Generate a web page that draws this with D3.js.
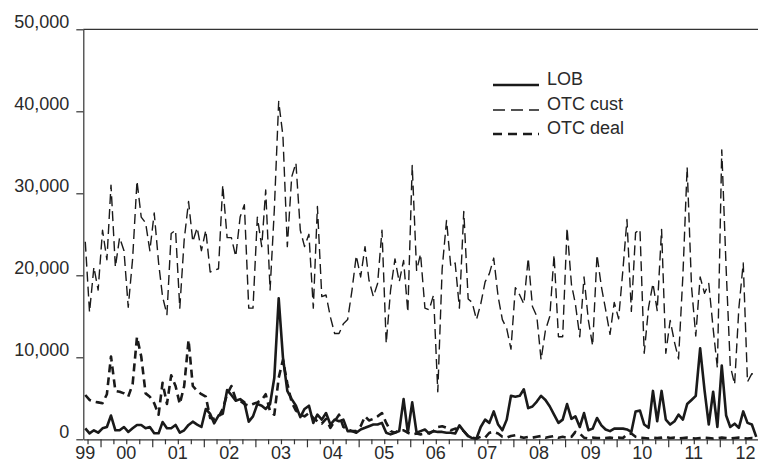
<!DOCTYPE html>
<html>
<head>
<meta charset="utf-8">
<script src="https://cdn.jsdelivr.net/npm/d3@7"></script>
<style>
  body { margin: 0; background: #fff; }
  text { font-family: "Liberation Sans", Arial, sans-serif; fill: #2a2a2a; }
</style>
</head>
<body>
<div id="chart-area"></div>
<script>
// monthly series, Sep 1999 .. Sep 2012
var firstMonth = [1999, 8];

var lob = [
  1340, 730, 1100, 800, 1340, 1500, 2900, 1100, 1100, 1500, 900, 1340,
  1750, 1750, 1340, 1500, 730, 730, 2100, 1340, 1340, 1750, 800, 1100,
  1750, 2150, 1800, 1500, 3700, 3100, 1950, 2900, 3100, 6000, 5400, 4700,
  4900, 4500, 2150, 2800, 4300, 4100, 3700, 4300, 7500, 17200, 10000, 5900,
  4900, 4100, 2700, 3700, 4100, 2000, 3000, 2400, 3200, 1800, 2400, 2200,
  2400, 1000, 1000, 800, 1200, 1400, 1600, 1800, 1800, 2000, 800, 600,
  800, 1000, 4900, 800, 4500, 800, 1000, 1200, 700, 1000, 900, 900,
  800, 800, 700, 1700, 1000, 400, 150, 100, 1500, 2400, 2000, 3400,
  1800, 1100, 2400, 5300, 5200, 5300, 6100, 3800, 4000, 4600, 5300, 4800,
  4000, 3000, 2000, 2400, 4300, 2500, 2800, 1500, 3200, 1100, 1300, 2600,
  1700, 1200, 1000, 1300, 1300, 1300, 1200, 900, 3400, 3500, 1800, 1400,
  5900, 2200, 5900, 2400, 1800, 2200, 3000, 2400, 4300, 4800, 5300, 11100,
  6000, 1800, 5800, 1500, 9000, 2900, 1500, 1900, 1400, 3400, 2000, 1800,
  300
];

var otcCust = [
  24100, 15500, 21000, 18200, 25500, 21900, 31000, 21000, 24600, 23000, 16100, 22000,
  31500, 27100, 26400, 23000, 27600, 21500, 17400, 15200, 25100, 25500, 16000, 24300,
  29000, 24100, 25800, 23000, 25500, 20400, 20600, 20800, 31000, 24600, 24600, 22300,
  27100, 28600, 16000, 16000, 27100, 23500, 30400, 18200, 28000, 41200, 37000, 23500,
  32000, 33700, 25500, 23500, 25000, 16000, 28400, 17400, 17600, 14900, 12900, 12900,
  14100, 14600, 18200, 22400, 19800, 23500, 19400, 17400, 19000, 25500, 11700, 18200,
  22000, 19200, 21800, 15500, 33400, 20600, 22600, 16000, 15800, 17600, 5800, 20800,
  26700, 21100, 21500, 16000, 27800, 17100, 16700, 14600, 16500, 19200, 20200, 22100,
  17400, 14600, 13500, 11000, 18500, 17600, 16500, 22100, 16200, 15000, 9700, 13300,
  15000, 22500, 12500, 12500, 25800, 18900, 16500, 12500, 19800, 14500, 11400, 22500,
  18600, 15800, 12800, 16700, 14700, 20800, 26800, 15600, 25200, 25600, 10500, 16100,
  19000, 15700, 25600, 10500, 14500, 11800, 9800, 20000, 33200, 18600, 12600, 19800,
  17800, 19000, 13500, 8700, 35300, 20800, 9000, 6700, 16000, 21500, 7000, 8000,
  7800
];

var otcDeal = [
  5400, 4800, 4600, 4500, 4400, 5500, 10100, 5900, 5800, 5600, 5200, 6700,
  12500, 10100, 5600, 5200, 4400, 3000, 6900, 4300, 7800, 6500, 4300, 6500,
  12100, 6500, 5900, 5500, 5200, 2600, 2500, 2700, 3700, 5500, 6500, 4900,
  4700, 4300, 4100, 4300, 4500, 4800, 5500, 3400, 3000, 7500, 9700, 6800,
  4500, 3500, 3000, 2800, 3200, 2600, 2200, 1900, 2500, 1400, 2200, 3000,
  1500, 1200, 1000, 1000, 1600, 2800, 2300, 2500, 2800, 3200, 2000, 1000,
  800, 1100, 1100, 800, 600, 700, 600, 700, 800, 1000, 1500, 1600,
  1400, 1100, 1300, 1200, 1000, 400, 200, 100, 300, 200, 800, 900,
  700, 300, 200, 400, 500, 300, 200, 300, 200, 300, 400, 200,
  300, 400, 200, 300, 200, 300, 900, 700, 200, 100, 200, 150,
  150, 150, 200, 150, 200, 150, 600, 700, 300, 200, 150, 100,
  200, 150, 200, 300, 150, 200, 100, 150, 200, 150, 100, 150,
  200, 150, 100, 150, 200, 150, 100, 150, 200, 150, 100, 150,
  100
];

var yearLabels = ["99", "00", "01", "02", "03", "04", "05", "06", "07", "08", "09", "10", "11", "12"];
var yTicks = [0, 10000, 20000, 30000, 40000, 50000];

var seriesNames = ["LOB", "OTC cust", "OTC deal"];

var width = 758, height = 462;
var plot = { left: 83.3, right: 758.5, top: 29.3, bottom: 439.3 };

var dates = lob.map(function(d, i) { return new Date(firstMonth[0], firstMonth[1] + i, 15); });

var xScale = d3.scaleTime()
    .domain([new Date(1999, 8, 1), new Date(2012, 9, 1)])
    .range([plot.left, plot.right]);

var yScale = d3.scaleLinear()
    .domain([0, 50000])
    .range([plot.bottom, plot.top]);

var svg = d3.select("#chart-area")
    .append("svg")
    .attr("width", width)
    .attr("height", height);

// frame top line
svg.append("line")
    .attr("x1", plot.left).attr("x2", width)
    .attr("y1", plot.top).attr("y2", plot.top)
    .attr("stroke", "#333")
    .attr("stroke-width", 1.2);

// y axis
var yAxis = svg.append("g")
    .attr("transform", "translate(" + plot.left + ",0)")
    .call(d3.axisLeft(yScale).tickValues(yTicks).tickSize(7).tickSizeOuter(0).tickPadding(7)
        .tickFormat(d3.format(",")));
yAxis.selectAll("text")
    .attr("dy", "-1.5")
    .style("font-size", "18px");

// x axis, quarterly ticks, longer at January
var xAxis = svg.append("g")
    .attr("transform", "translate(0," + plot.bottom + ")")
    .call(d3.axisBottom(xScale).ticks(d3.timeMonth.every(3)).tickSize(5).tickSizeOuter(0).tickFormat(""));
xAxis.selectAll(".tick line")
    .attr("y2", function(d) { return d.getMonth() === 0 ? 8 : 5; });

svg.selectAll(".domain, .tick line")
    .attr("stroke", "#333")
    .attr("stroke-width", 1.2);

svg.append("g").selectAll("text")
    .data(yearLabels)
    .enter().append("text")
    .attr("x", function(d, i) {
        var yr = 1999 + i;
        var mid = new Date(yr, 6, 1);
        return xScale(mid < dates[0] ? dates[0] : mid);
    })
    .attr("y", 458.5)
    .attr("text-anchor", "middle")
    .style("font-size", "18px")
    .text(function(d) { return d; });

// lines
var line = d3.line()
    .x(function(d, i) { return xScale(dates[i]); })
    .y(function(d) { return yScale(d); });

var styles = {
    "LOB": { width: 2.6, dash: null },
    "OTC cust": { width: 1.4, dash: "10,5" },
    "OTC deal": { width: 2.6, dash: "8,5" }
};
var seriesData = { "LOB": lob, "OTC cust": otcCust, "OTC deal": otcDeal };

["OTC cust", "OTC deal", "LOB"].forEach(function(name) {
    svg.append("path")
        .datum(seriesData[name])
        .attr("d", line)
        .attr("fill", "none")
        .attr("stroke", "#1a1a1a")
        .attr("stroke-width", styles[name].width)
        .attr("stroke-dasharray", styles[name].dash)
        .attr("stroke-linejoin", "round");
});

// legend
var legend = svg.append("g");
var legendY = [85, 110, 134];
seriesNames.forEach(function(name, i) {
    var row = legend.append("g").attr("transform", "translate(0," + legendY[i] + ")");
    row.append("line")
        .attr("x1", 493).attr("x2", 539)
        .attr("stroke", "#1a1a1a")
        .attr("stroke-width", styles[name].width)
        .attr("stroke-dasharray", name === "OTC cust" ? "12,6" : (name === "OTC deal" ? "9,6" : null));
    row.append("text")
        .attr("x", 547)
        .attr("y", -0.5)
        .style("font-size", "18px")
        .text(name);
});
</script>
</body>
</html>
